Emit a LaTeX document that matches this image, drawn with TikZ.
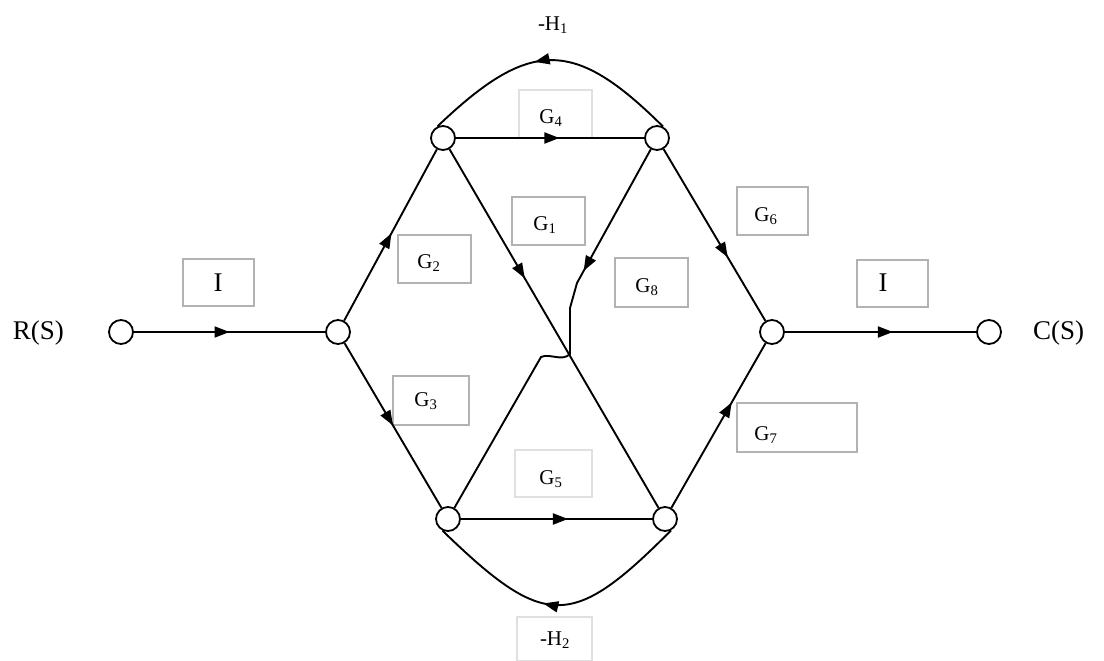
\documentclass[tikz,border=0pt]{standalone}
\usepackage{fontspec}
\setmainfont{Liberation Serif}
\usetikzlibrary{arrows.meta,decorations.markings}
\begin{document}
\begin{tikzpicture}[x=1pt,y=-1pt,
  sn/.style={circle,draw,line width=1.8pt,minimum size=24pt,inner sep=0pt,fill=white},
  edge/.style={line width=1.9pt},
  ar/.style={postaction={decorate},decoration={markings,mark=at position #1 with {\arrow{Triangle[length=15pt,width=11pt]}}}},
  lbox/.style={draw=black!30,line width=1.2pt},
  fbox/.style={draw=black!12,line width=1.2pt},
  glab/.style={font=\fontsize{21}{23}\selectfont,inner sep=0pt},
  big/.style={font=\fontsize{27}{30}\selectfont,inner sep=0pt}]
\useasboundingbox[fill=white] (0,0) rectangle (1104,661);

% label boxes
\draw[lbox] (183,259) rectangle (254,306);
\draw[lbox] (398,235) rectangle (471,283);
\draw[lbox] (393,376) rectangle (469,425);
\draw[fbox] (519,90) rectangle (592,138);
\draw[lbox] (512,197) rectangle (585,245);
\draw[lbox] (615,258) rectangle (688,307);
\draw[lbox] (737,187) rectangle (808,235);
\draw[lbox] (857,260) rectangle (928,307);
\draw[lbox] (737,403) rectangle (857,452);
\draw[fbox] (515,450) rectangle (592,497);
\draw[fbox] (517,617) rectangle (592,661);

% nodes
\node[sn] (R) at (121,332) {};
\node[sn] (A) at (338,332) {};
\node[sn] (B) at (443,138) {};
\node[sn] (C) at (657,138) {};
\node[sn] (D) at (448,519) {};
\node[sn] (E) at (665,519) {};
\node[sn] (F) at (772,332) {};
\node[sn] (O) at (989,332) {};

\coordinate (k1) at (577,283);
\coordinate (k2) at (570,308);
\coordinate (k3) at (570,354);
\coordinate (k4) at (541,357);

% branches
\draw[edge,ar=0.5] (R) -- (A);
\draw[edge,ar=0.51] (A) -- (B);
\draw[edge,ar=0.5] (A) -- (D);
\draw[edge,ar=0.55] (B) -- (C);
\draw[edge,ar=0.56] (D) -- (E);
\draw[edge,ar=0.36] (B) -- (E);
\draw[edge,ar=0.324] (C) -- (k1) -- (k2) -- (k3) .. controls (562,362) and (550,353) .. (k4) -- (D);
\draw[edge,ar=0.63] (C) -- (F);
\draw[edge,ar=0.64] (E) -- (F);
\draw[edge,ar=0.565] (F) -- (O);
\draw[edge,ar=0.56] (C.62) .. controls (574,38) and (530,38) .. (B.115);
\draw[edge,ar=0.55] (E.298) .. controls (572,630) and (545,630) .. (D.245);

% labels
\node[big,anchor=east] (lR) at (64,333) {R(S)};
\node[big,anchor=west] (lC) at (1033,333) {C(S)};
\node[big] (l1) at (218,283) {I};
\node[big] (l9) at (883,283) {I};
\node[glab] (lG1) at (545,225) {G\textsubscript{1}};
\node[glab] (lG2) at (429,263) {G\textsubscript{2}};
\node[glab] (lG3) at (426,401) {G\textsubscript{3}};
\node[glab] (lG4) at (551,118) {G\textsubscript{4}};
\node[glab] (lG5) at (551,479) {G\textsubscript{5}};
\node[glab] (lG6) at (766,216) {G\textsubscript{6}};
\node[glab] (lG7) at (766,435) {G\textsubscript{7}};
\node[glab] (lG8) at (647,287) {G\textsubscript{8}};
\node[glab] (lH1) at (553,25) {-H\textsubscript{1}};
\node[glab] (lH2) at (555,640) {-H\textsubscript{2}};
\end{tikzpicture}
\end{document}
